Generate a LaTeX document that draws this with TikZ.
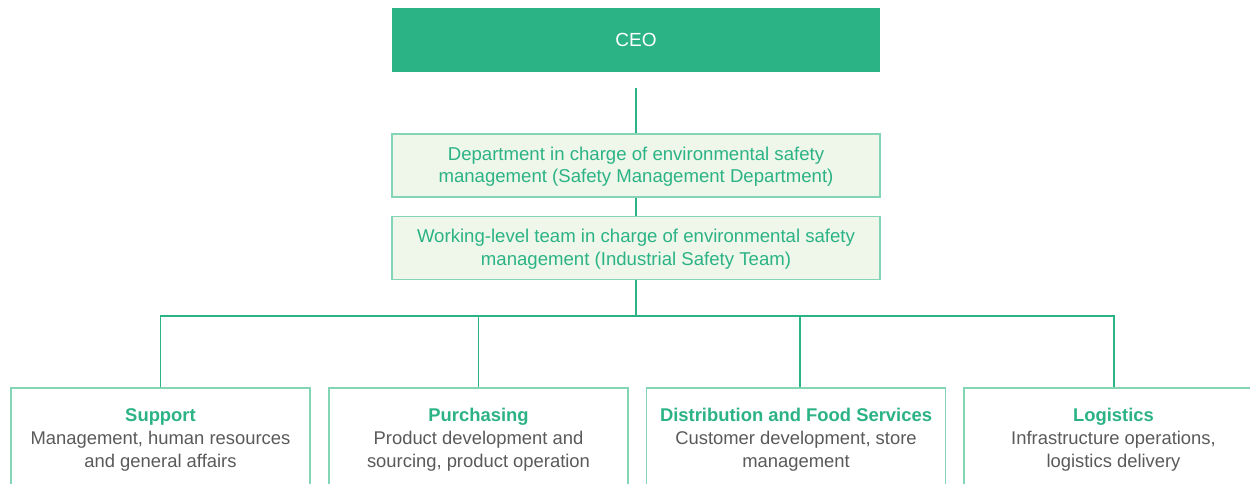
\documentclass[tikz,border=0pt]{standalone}
\usepackage{fontspec}
\setmainfont{Liberation Sans}
\usetikzlibrary{positioning}

\definecolor{orggreen}{HTML}{2BB386}
\definecolor{paleleaf}{HTML}{EFF7EA}
\definecolor{mintline}{HTML}{84D5B5}
\definecolor{txtgray}{HTML}{5A5A5A}

\begin{document}
\begin{tikzpicture}[x=1pt, y=1pt,
  ceobox/.style={rectangle, fill=orggreen, text=white, minimum width=488pt, minimum height=64pt, font=\fontsize{19}{22}\selectfont},
  deptbox/.style={rectangle, draw=mintline, line width=1.2pt, fill=paleleaf, text=orggreen, align=center, minimum width=488pt, minimum height=63pt, inner sep=0pt, font=\fontsize{18.6}{22.5}\selectfont},
  unitbox/.style={rectangle, draw=mintline, line width=1.2pt, fill=white, text=txtgray, align=center, minimum width=299pt, minimum height=104pt, inner sep=0pt, font=\fontsize{18.4}{23}\selectfont},
  linkedge/.style={draw=orggreen, line width=1.2pt}
]
\useasboundingbox (0,0) rectangle (1250,-484);
\clip (0,0) rectangle (1250,-484);

\node[ceobox] (ceo) at (636, -40) {CEO};
\node[deptbox] (dept) at (636, -165.5) {\rule{0pt}{16pt}Department in charge of environmental safety\\management (Safety Management Department)};
\node[deptbox] (team) at (636, -248) {\rule{0pt}{16pt}Working-level team in charge of environmental safety\\management (Industrial Safety Team)};

\node[unitbox] (supp) at (160.5, -440) {{\usefont{TU}{\rmdefault}{b}{n}\color{orggreen}Support}\\Management, human resources\\and general affairs};
\node[unitbox] (purch) at (478.5, -440) {{\usefont{TU}{\rmdefault}{b}{n}\color{orggreen}Purchasing}\\Product development and\\sourcing, product operation};
\node[unitbox] (dist) at (796, -440) {{\usefont{TU}{\rmdefault}{b}{n}\color{orggreen}Distribution and Food Services}\\Customer development, store\\management};
\node[unitbox] (logi) at (1113.5, -440) {{\usefont{TU}{\rmdefault}{b}{n}\color{orggreen}Logistics}\\Infrastructure operations,\\logistics delivery};

\coordinate (ceostem) at (636, -88);
\coordinate (bus) at (636, -316);
\draw[linkedge] (ceostem) -- (dept.north);
\draw[linkedge] (dept.south) -- (team.north);
\draw[linkedge] (team.south) -- (bus);
\draw[linkedge] (supp.north) |- (bus) -| ([xshift=0.5pt]logi.north);
\draw[linkedge] (bus -| purch.north) -- (purch.north);
\draw[linkedge] (bus -| dist.north) ++(4,0) -- ([xshift=4pt]dist.north);

\end{tikzpicture}
\end{document}
